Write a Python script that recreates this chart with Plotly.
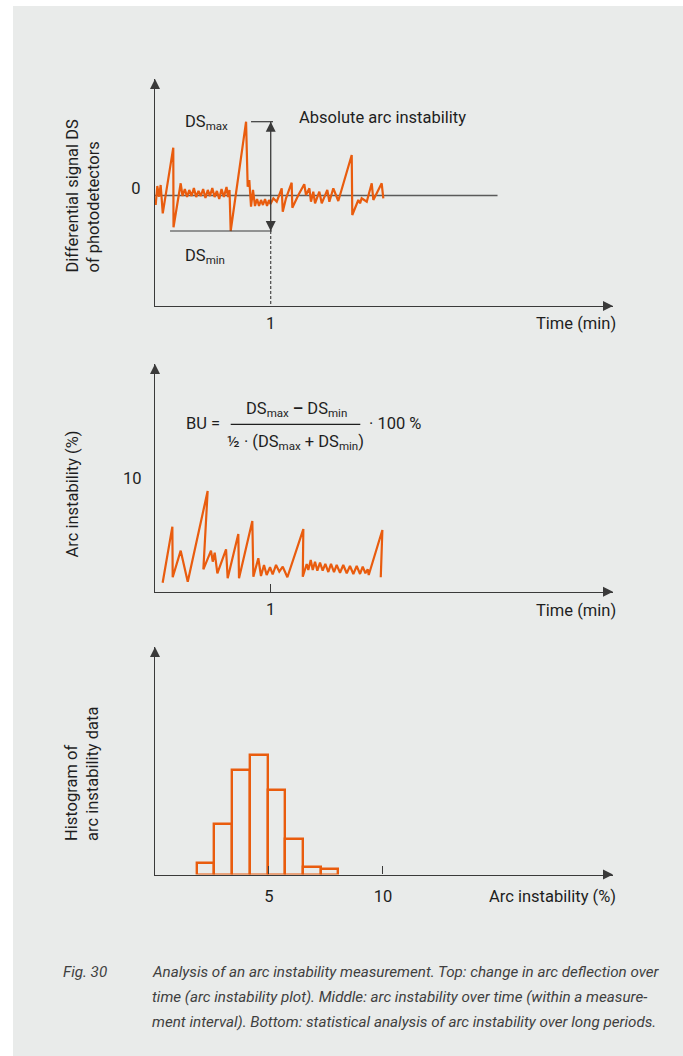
import plotly.graph_objects as go

W, H = 683, 1056
ORANGE = '#e95c0e'
AXIS = '#3a3a3a'
TEXT = '#1e1e1e'
CAPTION = '#3f3f3f'
BG = '#e9ebea'
FONT = 'Roboto, Liberation Sans, sans-serif'

# ---------------- data ----------------
# Top: differential signal DS of photodetectors over time (min)
signal_t = [0.006, 0.020, 0.035, 0.049, 0.067, 0.158, 0.160, 0.222, 0.238, 0.258,
            0.277, 0.296, 0.316, 0.336, 0.356, 0.376, 0.396, 0.416, 0.436, 0.456,
            0.475, 0.495, 0.515, 0.535, 0.555, 0.575, 0.595, 0.618, 0.631, 0.644,
            0.654, 0.787, 0.801, 0.815, 0.830, 0.847, 0.864, 0.882, 0.899, 0.916,
            0.933, 0.951, 0.968, 0.985, 0.998, 1.023, 1.052, 1.095, 1.104, 1.132,
            1.181, 1.187, 1.239, 1.290, 1.305, 1.334, 1.348, 1.368, 1.383, 1.420,
            1.441, 1.489, 1.507, 1.541, 1.584, 1.700, 1.705, 1.757, 1.772, 1.786,
            1.830, 1.873, 1.887, 1.959, 1.973]
signal_ds = [-0.95, 0.95, -0.12, 1.05, -1.78, 4.78, -3.18, 1.22, -0.05, 0.65,
             -0.15, 0.55, -0.05, 0.75, -0.15, 0.45, -0.05, 0.65, -0.25, 0.55,
             -0.05, 0.75, -0.15, 0.45, -0.35, 0.65, -0.15, 0.85, -0.15, 0.55,
             -3.55, 7.38, 0.88, 1.55, -1.12, 0.55, -1.05, -0.35, -1.05, -0.45,
             -0.95, -0.35, -1.05, -0.45, -0.85, -0.28, -0.62, 0.72, -1.62, -0.28,
             1.28, -1.22, 0.05, 1.12, 0.05, 0.72, -0.62, 0.38, -0.78, 0.38,
             -0.78, 0.55, -0.62, 0.72, -0.55, 4.05, -1.95, -0.45, -0.78, -0.28,
             -0.62, 1.22, -0.45, 1.22, -0.28]
zero_line_end = 2.96
dsmax_line_x = [0.83, 1.02]
dsmin_line_x = [0.13, 1.01]
marker_time = 1.0

# Middle: arc instability (%) over time (min)
bu_t = [0.066, 0.150, 0.153, 0.222, 0.283, 0.455, 0.418, 0.484, 0.499, 0.516,
        0.539, 0.614, 0.628, 0.720, 0.726, 0.841, 0.850, 0.893, 0.916, 0.942,
        0.965, 0.994, 1.017, 1.046, 1.074, 1.104, 1.144, 1.282, 1.277, 1.311,
        1.325, 1.346, 1.363, 1.383, 1.403, 1.426, 1.449, 1.472, 1.498, 1.521,
        1.547, 1.570, 1.599, 1.627, 1.657, 1.685, 1.714, 1.743, 1.772, 1.795,
        1.818, 1.838, 1.847, 1.965, 1.951]
bu_val = [0.79, 5.72, 1.27, 3.61, 0.88, 8.86, 1.97, 3.61, 2.64, 3.43,
          1.62, 3.73, 1.18, 5.07, 1.18, 6.22, 1.32, 2.94, 1.38, 2.35,
          1.47, 2.15, 1.53, 2.35, 1.76, 2.20, 1.27, 5.51, 1.32, 2.44,
          1.91, 2.79, 1.91, 2.64, 1.85, 2.55, 1.85, 2.44, 1.73, 2.44,
          1.73, 2.35, 1.67, 2.35, 1.62, 2.26, 1.56, 2.26, 1.56, 2.20,
          1.62, 1.97, 1.47, 5.43, 1.27]

# Bottom: histogram of arc instability data
hist_edges = [1.86, 2.59, 3.39, 4.17, 4.96, 5.72, 6.48, 7.28, 8.04]
hist_counts = [12, 51, 105, 120, 85, 36, 8, 6]

top_x_ticks, top_x_text = [1], ['1']
top_y_ticks, top_y_text = [0], ['0']
mid_x_ticks, mid_x_text = [1], ['1']
mid_y_ticks, mid_y_text = [10], ['10']
bot_x_ticks, bot_x_text = [5, 10], ['5', '10']

top_xrange = [0, 3.958]
top_yrange = [-11.05, 11.65]
mid_xrange = [0, 3.958]
mid_yrange = [0, 20.03]
bot_xrange = [0, 20.09]
bot_yrange = [0, 227.5]


def fx(px):
    return px / W


def fy(py):
    return 1 - py / H


hist_centers = [(a + b) / 2 for a, b in zip(hist_edges[:-1], hist_edges[1:])]
hist_widths = [b - a for a, b in zip(hist_edges[:-1], hist_edges[1:])]

fig = go.Figure()

# top signal
fig.add_trace(go.Scatter(x=signal_t, y=signal_ds, mode='lines',
                         line=dict(color=ORANGE, width=2.2),
                         xaxis='x', yaxis='y', hoverinfo='skip'))
# middle signal
fig.add_trace(go.Scatter(x=bu_t, y=bu_val, mode='lines',
                         line=dict(color=ORANGE, width=2.2),
                         xaxis='x2', yaxis='y2', hoverinfo='skip'))
# histogram bars
fig.add_trace(go.Bar(x=hist_centers, y=hist_counts, width=hist_widths,
                     marker=dict(color='rgba(0,0,0,0)',
                                 line=dict(color=ORANGE, width=2.4)),
                     xaxis='x3', yaxis='y3', hoverinfo='skip'))

# axis arrowheads
for xa, ya, xr, yr in [('x', 'y', top_xrange, top_yrange),
                       ('x2', 'y2', mid_xrange, mid_yrange),
                       ('x3', 'y3', bot_xrange, bot_yrange)]:
    fig.add_trace(go.Scatter(x=[xr[0]], y=[yr[1]], mode='markers',
                             marker=dict(symbol='arrow-up', size=10, color=AXIS),
                             cliponaxis=False, xaxis=xa, yaxis=ya, hoverinfo='skip'))
    fig.add_trace(go.Scatter(x=[xr[1]], y=[yr[0]], mode='markers',
                             marker=dict(symbol='arrow-right', size=10, color=AXIS),
                             cliponaxis=False, xaxis=xa, yaxis=ya, hoverinfo='skip'))

ds_max = max(signal_ds)
ds_min = min(signal_ds)

# double arrow between DSmax and DSmin
fig.add_trace(go.Scatter(x=[marker_time, marker_time], y=[ds_max, ds_min],
                         mode='lines+markers',
                         line=dict(color=AXIS, width=1.3),
                         marker=dict(symbol=['arrow-up', 'arrow-down'], size=10, color=AXIS),
                         cliponaxis=False, xaxis='x', yaxis='y', hoverinfo='skip'))

shapes = [
    # grey page background
    dict(type='rect', xref='paper', yref='paper', x0=fx(13), x1=1, y0=0, y1=fy(6),
         fillcolor=BG, line=dict(width=0), layer='below'),
    # zero line
    dict(type='line', xref='x', yref='y', x0=0, x1=zero_line_end, y0=0, y1=0,
         line=dict(color='#5a5a5a', width=1.4), layer='below'),
    # DSmax / DSmin reference lines
    dict(type='line', xref='x', yref='y', x0=dsmax_line_x[0], x1=dsmax_line_x[1],
         y0=ds_max, y1=ds_max, line=dict(color=AXIS, width=1.2)),
    dict(type='line', xref='x', yref='y', x0=dsmin_line_x[0], x1=dsmin_line_x[1],
         y0=ds_min, y1=ds_min, line=dict(color=AXIS, width=1.2)),
    # dashed marker down to time axis
    dict(type='line', xref='x', yref='y', x0=marker_time, x1=marker_time,
         y0=ds_min, y1=top_yrange[0], line=dict(color=AXIS, width=1.1, dash='3px,2px')),
    # fraction bar of the formula
    dict(type='line', xref='paper', yref='paper', x0=fx(230.7), x1=fx(360.3),
         y0=fy(424.3), y1=fy(424.3), line=dict(color=TEXT, width=1.3)),
]

lab = dict(family=FONT, size=16.5, color=TEXT)
cap = dict(family=FONT, size=15.2, color=CAPTION)


def ann(text, x, y, xanchor='left', yanchor='middle', font=lab, **kw):
    d = dict(text=text, x=fx(x), y=fy(y), xref='paper', yref='paper',
             xanchor=xanchor, yanchor=yanchor, showarrow=False, font=font)
    d.update(kw)
    return d


annotations = [
    ann('DS<sub>max</sub>', 183, 123),
    ann('Absolute arc instability', 297, 118),
    ann('DS<sub>min</sub>', 183, 256),
    ann('Differential signal DS<br>of photodetectors', 82, 275,
        xanchor='center', yanchor='bottom', textangle=-90, align='left'),
    ann('Time (min)', 618, 323, xanchor='right'),
    # formula
    ann('BU =', 222, 423, xanchor='right'),
    ann('DS<sub>max</sub> <b>–</b> DS<sub>min</sub>', 296, 410, xanchor='center'),
    ann('½ · (DS<sub>max</sub> + DS<sub>min</sub>)', 295.5, 443, xanchor='center'),
    ann('· 100 %', 367, 423),
    ann('Arc instability (%)', 72, 560, xanchor='center', yanchor='bottom', textangle=-90),
    ann('Time (min)', 618, 610, xanchor='right'),
    ann('Histogram of<br>arc instability data', 82, 843,
        xanchor='center', yanchor='bottom', textangle=-90, align='left'),
    ann('Arc instability (%)', 618, 896, xanchor='right'),
    # caption
    ann('<i>Fig. 30</i>', 61, 972, font=cap),
    ann('<i>Analysis of an arc instability measurement. Top: change in arc deflection over</i>',
        150, 972, font=cap),
    ann('<i>time (arc instability plot). Middle: arc instability over time (within a measure-</i>',
        150, 997, font=cap),
    ann('<i>ment interval). Bottom: statistical analysis of arc instability over long periods.</i>',
        150, 1022, font=cap),
]

axis_common = dict(showgrid=False, zeroline=False, showline=True, linecolor=AXIS,
                   linewidth=1.3, fixedrange=True, tickfont=lab, tickcolor=AXIS)

fig.update_layout(
    width=W, height=H, margin=dict(l=0, r=0, t=0, b=0),
    paper_bgcolor='white', plot_bgcolor='rgba(0,0,0,0)',
    showlegend=False, hovermode=False, bargap=0,
    font=dict(family=FONT, color=TEXT),
    xaxis=dict(domain=[fx(155), fx(613)], range=top_xrange, anchor='y',
               tickvals=top_x_ticks, ticktext=top_x_text, ticks='',
               ticklabelstandoff=2, **axis_common),
    yaxis=dict(domain=[fy(306), fy(79)], range=top_yrange, anchor='x',
               tickvals=top_y_ticks, ticktext=top_y_text, ticks='',
               ticklabelstandoff=10, ticklabelshift=-7, **axis_common),
    xaxis2=dict(domain=[fx(155), fx(613)], range=mid_xrange, anchor='y2',
                tickvals=mid_x_ticks, ticktext=mid_x_text, ticks='inside', ticklen=8,
                tickwidth=1.2, ticklabelstandoff=2, **axis_common),
    yaxis2=dict(domain=[fy(591.7), fy(364)], range=mid_yrange, anchor='x2',
                tickvals=mid_y_ticks, ticktext=mid_y_text, ticks='',
                ticklabelstandoff=9, **axis_common),
    xaxis3=dict(domain=[fx(155), fx(613)], range=bot_xrange, anchor='y3',
                tickvals=bot_x_ticks, ticktext=bot_x_text, ticks='inside', ticklen=8,
                tickwidth=1.2, ticklabelstandoff=7, **axis_common),
    yaxis3=dict(domain=[fy(874.5), fy(647)], range=bot_yrange, anchor='x3',
                showticklabels=False, ticks='', **axis_common),
    shapes=shapes,
    annotations=annotations,
)

fig.write_html('out.html', config={'displayModeBar': False},
               post_script="document.body.style.margin='0';document.body.style.overflow='hidden';")
